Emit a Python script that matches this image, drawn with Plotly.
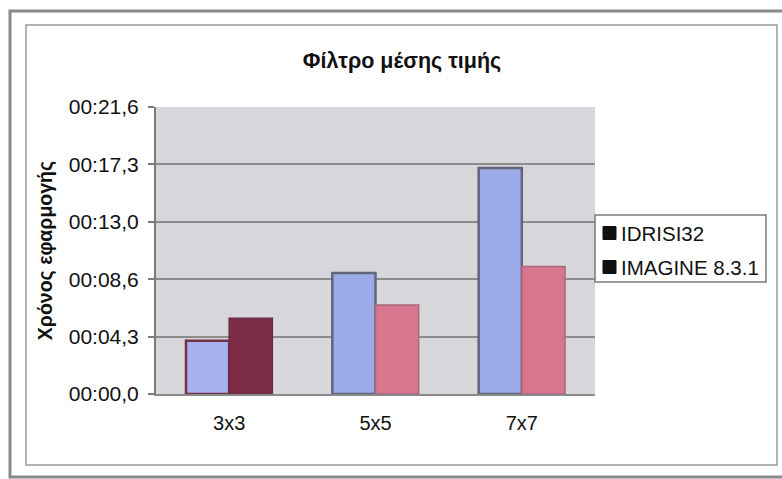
import plotly.graph_objects as go

# Execution times (seconds) of the mean filter for each kernel size
categories = ["3x3", "5x5", "7x7"]
idrisi_times = [4.0, 9.1, 17.0]
imagine_times = [5.7, 6.7, 9.6]
series_names = ["IDRISI32", "IMAGINE 8.3.1"]

tick_values = [0, 4.32, 8.64, 12.96, 17.28, 21.6]
tick_labels = ["00:00,0", "00:04,3", "00:08,6", "00:13,0", "00:17,3", "00:21,6"]

W, H = 782, 479
PL, PR, PT, PB = 156, 595, 107, 394  # plot area in pixels
FONT = "Arial, Liberation Sans, sans-serif"


def px_x(px):
    return (px - PL) / (PR - PL)


def px_y(py):
    return (PB - py) / (PB - PT)


fig = go.Figure()

fig.add_trace(go.Bar(
    x=categories, y=idrisi_times, name=series_names[0], showlegend=False,
    marker=dict(color=["#a6b2ee", "#9caae8", "#9caae8"],
                line=dict(color=["#74304a", "#62657a", "#62657a"], width=2.5)),
))
fig.add_trace(go.Bar(
    x=categories, y=imagine_times, name=series_names[1], showlegend=False,
    marker=dict(color=["#7c2c46", "#d9768f", "#d9768f"],
                line=dict(color=["#6e2a40", "#a9687a", "#a9687a"], width=1.5)),
))

# Double frame around the chart
fig.add_shape(type="rect", xref="paper", yref="paper",
              x0=px_x(10), x1=px_x(792), y0=px_y(477), y1=px_y(11),
              line=dict(color="#8a8a8a", width=3), layer="below")
fig.add_shape(type="rect", xref="paper", yref="paper",
              x0=px_x(26), x1=px_x(777), y0=px_y(465), y1=px_y(25),
              line=dict(color="#9a9a9a", width=1.5), layer="below")

# Legend box with one swatch and label per series
fig.add_shape(type="rect", xref="paper", yref="paper",
              x0=px_x(595), x1=px_x(766), y0=px_y(282), y1=px_y(215),
              fillcolor="#ffffff", line=dict(color="#7a7a7a", width=1.5))
for i, name in enumerate(series_names):
    cy = 233 + 34 * i
    fig.add_shape(type="rect", xref="paper", yref="paper",
                  x0=px_x(603), x1=px_x(616), y0=px_y(cy + 6.5), y1=px_y(cy - 6.5),
                  fillcolor="#111111", line=dict(color="#111111", width=1))
    fig.add_annotation(text=name, xref="paper", yref="paper",
                       x=px_x(619), y=px_y(cy), xanchor="left", yanchor="middle",
                       showarrow=False,
                       font=dict(family=FONT, size=20.5, color="#111111"))

fig.update_layout(
    width=W, height=H,
    margin=dict(l=PL, r=W - PR, t=PT, b=H - PB, pad=0),
    paper_bgcolor="#ffffff",
    plot_bgcolor="#d7d7db",
    barmode="group",
    bargap=0.41,
    bargroupgap=0,
    showlegend=False,
    font=dict(family=FONT, size=20, color="#111111"),
    title=dict(text="<b>Φίλτρο μέσης τιμής</b>", x=402 / W, xref="container",
               xanchor="center", y=1 - 60 / H, yref="container", yanchor="middle",
               font=dict(family=FONT, size=21.5, color="#111111")),
    xaxis=dict(
        showgrid=False, showline=True, linecolor="#8a8a8a", linewidth=2,
        ticks="", tickfont=dict(size=20), ticklabelstandoff=10,
        fixedrange=True,
    ),
    yaxis=dict(
        range=[0, 21.6], tickvals=tick_values, ticktext=tick_labels,
        showgrid=True, gridcolor="#8c8c8c", gridwidth=2,
        showline=True, linecolor="#7a7a7a", linewidth=2,
        ticks="outside", ticklen=6, tickcolor="#7a7a7a", tickwidth=1.5,
        tickfont=dict(size=21), zeroline=False, ticklabelstandoff=5,
        title=dict(text="<b>Χρόνος εφαρμογής</b>", standoff=11,
                   font=dict(family=FONT, size=19.5)),
        fixedrange=True,
    ),
)

fig.write_html("out.html")
